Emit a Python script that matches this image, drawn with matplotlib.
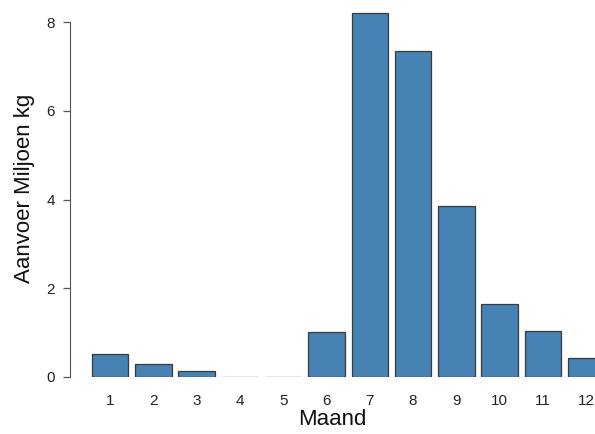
import numpy as np
import matplotlib.pyplot as plt

plt.rcParams['font.family'] = ['Liberation Sans', 'DejaVu Sans']

# Aanvoer per maand (miljoen kg)
maanden = [1, 2, 3, 4, 5, 6, 7, 8, 9, 10, 11, 12]
aanvoer = [0.52, 0.29, 0.13, 0.0, 0.0, 1.01, 8.2, 7.36, 3.86, 1.64, 1.04, 0.42]
y_ticks = [0, 2, 4, 6, 8]

fig = plt.figure(figsize=(5.95, 4.34), dpi=100)
ax = fig.add_axes([70 / 595, 57 / 434, 1 - 70 / 595, 377 / 434])

ax.bar(maanden, aanvoer, width=0.84, color='#4682B4',
       edgecolor='#3a3a3a', linewidth=0.9)

ax.set_xlim(0.074, 12.204)
ax.set_ylim(0, 8.5)

for s in ['top', 'right', 'bottom']:
    ax.spines[s].set_visible(False)
ax.spines['left'].set_bounds(0, 8)
ax.spines['left'].set_color('#555555')

ax.set_yticks(y_ticks)
ax.set_xticks(maanden)
ax.set_xticklabels([str(m) for m in maanden])
ax.tick_params(axis='y', length=5, width=0.9, color='#555555', pad=6,
               labelsize=11, labelcolor='#222222')
ax.tick_params(axis='x', length=0, pad=12, labelsize=11, labelcolor='#222222')

ax.set_xlabel('Maand', fontsize=16, labelpad=1, color='#111111')
ax.set_ylabel('Aanvoer Miljoen kg', fontsize=16, labelpad=8, color='#111111')

fig.savefig('out.png', dpi=100)
